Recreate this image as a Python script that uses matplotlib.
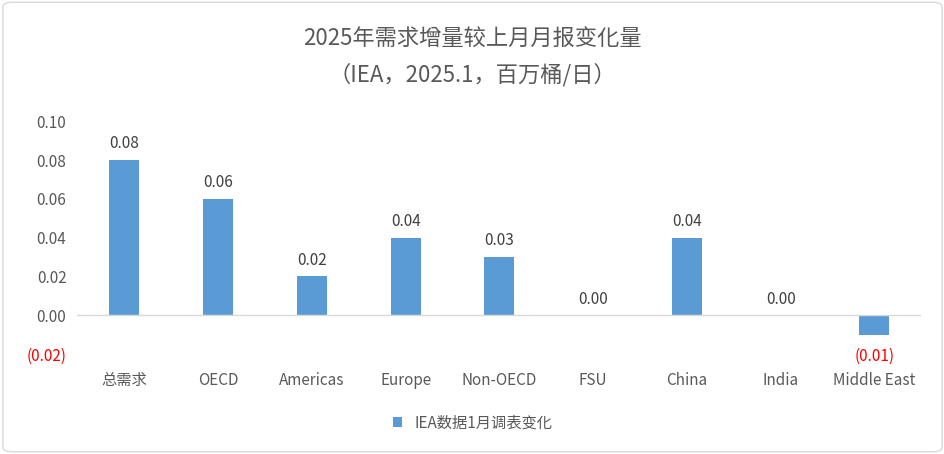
import matplotlib
matplotlib.use("Agg")
import matplotlib.pyplot as plt
from matplotlib import font_manager
from matplotlib.patches import FancyBboxPatch

cjk = [f.name for f in font_manager.fontManager.ttflist if "CJK" in f.name]
pref = [n for n in cjk if n.endswith("SC")] + cjk
plt.rcParams["font.family"] = ([pref[0]] if pref else []) + ["DejaVu Sans"]

categories = ["总需求", "OECD", "Americas", "Europe", "Non-OECD", "FSU", "China", "India", "Middle East"]
values = [0.08, 0.06, 0.02, 0.04, 0.03, 0.00, 0.04, 0.00, -0.01]
yticks = [-0.02, 0.00, 0.02, 0.04, 0.06, 0.08, 0.10]


def fmt(v):
    return "({:.2f})".format(abs(v)) if v < 0 else "{:.2f}".format(v)


fig = plt.figure(figsize=(9.45, 4.54), dpi=100)
fig.patches.append(FancyBboxPatch((0.003, 0.005), 0.994, 0.99, boxstyle="round,pad=0,rounding_size=0.01",
                                  transform=fig.transFigure, fill=False, edgecolor="#d9d9d9", lw=1))
ax = fig.add_axes([0.082, 0.22, 0.893, 0.513])
x = range(len(categories))
ax.bar(x, values, width=0.32, color="#5B9BD5", label="IEA数据1月调表变化")
for i, v in zip(x, values):
    off = 0.004 if v >= 0 else -0.007
    ax.text(i, v + off, fmt(v), ha="center", va="bottom" if v >= 0 else "top",
            fontsize=11, color="red" if v < 0 else "#404040")
ax.set_ylim(-0.02, 0.10)
ax.set_xlim(-0.5, len(categories) - 0.5)
ax.set_yticks(yticks)
ax.set_yticklabels([fmt(t) for t in yticks], fontsize=11, color="#595959")
for lab, t in zip(ax.get_yticklabels(), yticks):
    if t < 0:
        lab.set_color("red")
ax.set_xticks(list(x))
ax.set_xticklabels(categories, fontsize=11, color="#595959")
ax.tick_params(length=0, pad=8)
ax.tick_params(axis="x", pad=13)
for s in ax.spines.values():
    s.set_visible(False)
ax.axhline(0, color="#d9d9d9", lw=1)
fig.text(0.5, 0.915, "2025年需求增量较上月月报变化量", ha="center", va="center", fontsize=16, color="#595959")
fig.text(0.5, 0.835, "（IEA，2025.1，百万桶/日）", ha="center", va="center", fontsize=16, color="#595959")
fig.legend(loc="center", bbox_to_anchor=(0.5, 0.068), frameon=False, fontsize=11,
           handlelength=0.6, handleheight=0.6, labelcolor="#595959")
fig.savefig("out.png", dpi=100)
